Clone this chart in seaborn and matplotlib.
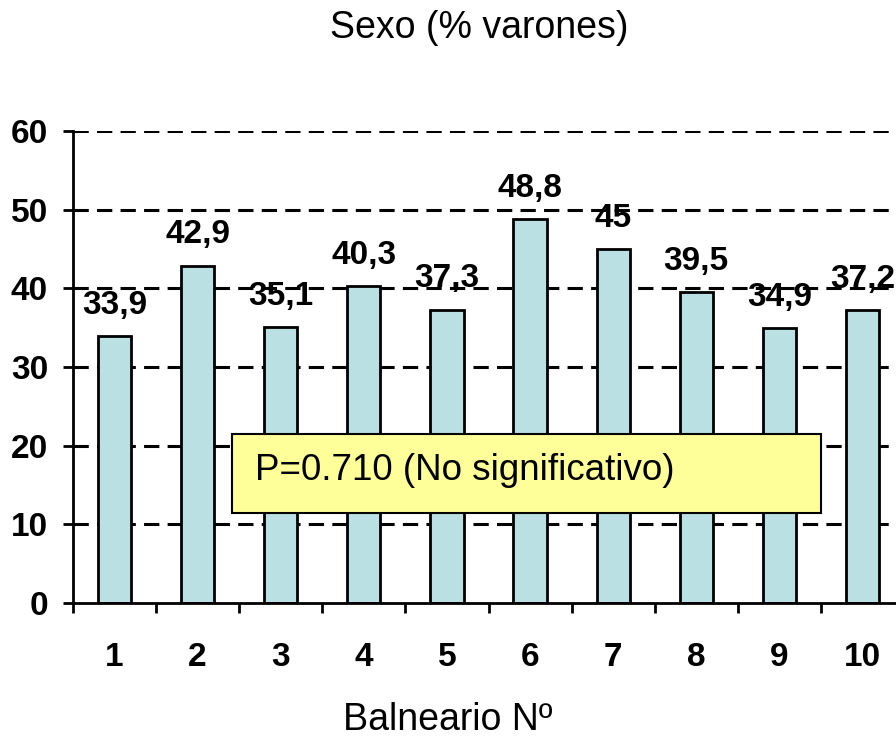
import matplotlib
matplotlib.use("Agg")
import matplotlib.pyplot as plt
import seaborn as sns
import pandas as pd
from matplotlib.patches import Rectangle

categories = ["1", "2", "3", "4", "5", "6", "7", "8", "9", "10"]
values = [33.9, 42.9, 35.1, 40.3, 37.3, 48.8, 45.0, 39.5, 34.9, 37.2]
value_labels = ["33,9", "42,9", "35,1", "40,3", "37,3", "48,8", "45", "39,5", "34,9", "37,2"]
y_ticks = [0, 10, 20, 30, 40, 50, 60]

sns.set_style("white")
plt.rcParams['font.family'] = ['Liberation Sans', 'DejaVu Sans']
plt.rcParams['text.color'] = 'black'
plt.rcParams['xtick.color'] = 'black'
plt.rcParams['ytick.color'] = 'black'
plt.rcParams['axes.labelcolor'] = 'black'

df = pd.DataFrame({"Balneario": categories, "Valor": values})

fig = plt.figure(figsize=(8.96, 7.42), dpi=100)
ax = fig.add_axes([73/896, 1-603/742, 831/896, (603-131)/742])

sns.barplot(data=df, x="Balneario", y="Valor", ax=ax, color="#BAE0E3",
            width=0.4, edgecolor="black", linewidth=2, saturation=1, zorder=3)

ax.set_ylim(0, 60)
ax.set_xlim(-0.5, 9.5)
ax.set_yticks(y_ticks)
for y in y_ticks[1:]:
    ax.axhline(y, color="black", lw=2.2, linestyle=(0, (5, 2.7)), zorder=1)

for s in ["top", "right"]:
    ax.spines[s].set_visible(False)
for s in ["left", "bottom"]:
    ax.spines[s].set_color("black")
    ax.spines[s].set_linewidth(2)
    ax.spines[s].set_zorder(4)

ax.set_xticks([i - 0.5 for i in range(len(categories) + 1)])
ax.set_xticklabels([])
ax.set_xticks(range(len(categories)), minor=True)
ax.set_xticklabels(categories, minor=True, fontsize=24, fontweight="bold")
ax.tick_params(axis="x", which="major", direction="out", length=7, width=2, color="black", bottom=True)
ax.tick_params(axis="x", which="minor", length=0, pad=28)
ax.tick_params(axis="y", direction="out", length=7, width=2, color="black", left=True, pad=11,
               labelsize=24)
for lab in ax.get_yticklabels():
    lab.set_fontweight("bold")

ax.set_xlabel("")
ax.set_ylabel("")
fig.text(448/896, 1-720/742, "Balneario Nº", fontsize=27, ha="center", va="center")
fig.text(479/896, 1-28/742, "Sexo (% varones)", fontsize=27, ha="center", va="center")

ax.bar_label(ax.containers[0], labels=value_labels, padding=11, fontsize=24, fontweight="bold")

rect = Rectangle((232/896, 1-513/742), (821-232)/896, (513-434)/742, transform=fig.transFigure,
                 facecolor="#FFFF99", edgecolor="black", linewidth=1.5, zorder=10, clip_on=False)
fig.patches.append(rect)
fig.text(255/896, 1-471/742, "P=0.710 (No significativo)", fontsize=26.5, ha="left", va="center", zorder=11)

fig.savefig("out.png", dpi=100)
